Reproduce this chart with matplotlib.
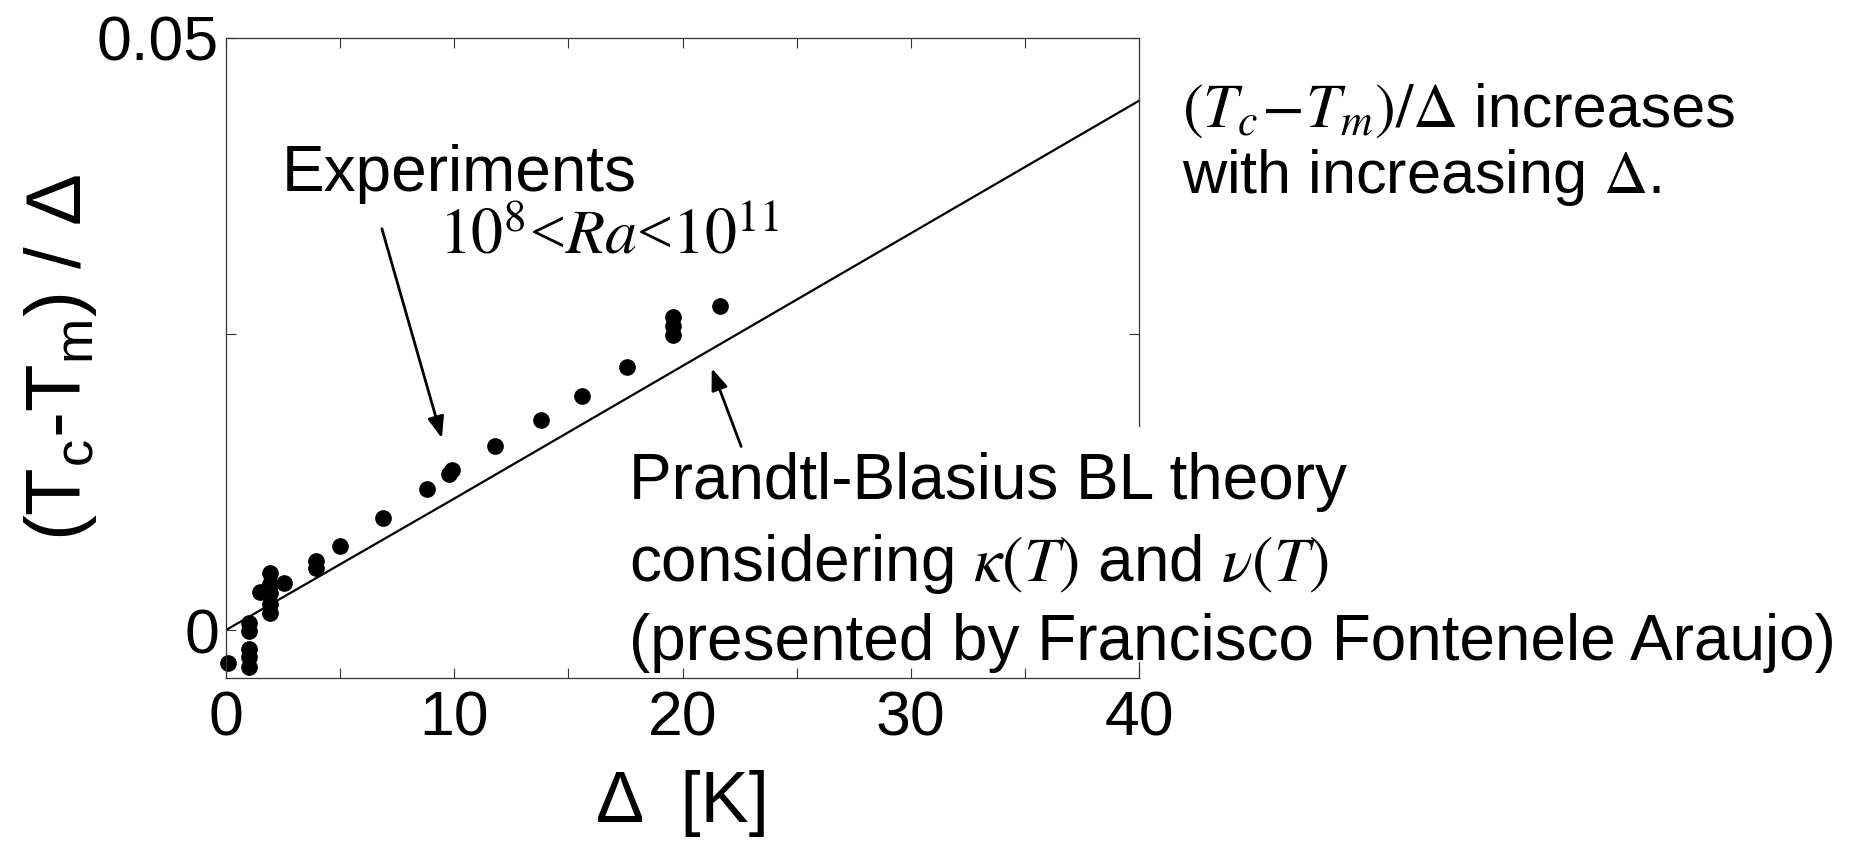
import numpy as np
import matplotlib
matplotlib.use('Agg')
from matplotlib import pyplot as plt
from matplotlib.patches import Rectangle

# data
exp_delta = [0.1, 1.0, 1.0, 1.0, 1.0, 1.0, 1.5, 1.95, 1.95, 1.95, 1.95, 1.95,
             2.55, 3.95, 3.95, 5.0, 6.9, 8.8, 9.75, 9.9, 11.8, 13.8, 15.6,
             17.55, 19.6, 19.6, 19.6, 21.65]
exp_ratio = [-0.0028, 0.0006, -0.0001, -0.0016, -0.0023, -0.0031, 0.0032,
             0.0048, 0.0039, 0.0031, 0.0022, 0.0014, 0.0040, 0.0058, 0.0052,
             0.0071, 0.0095, 0.0119, 0.0132, 0.0135, 0.0155, 0.0177, 0.0198,
             0.0222, 0.0264, 0.0257, 0.0249, 0.0274]

theory_delta = [0, 10, 20, 30, 40]
theory_ratio = [0, 0.0111, 0.0223, 0.0335, 0.0447]

x_ticks = [0, 5, 10, 15, 20, 25, 30, 35, 40]
x_ticklabels = ['0', '', '10', '', '20', '', '30', '', '40']
y_ticks = [0, 0.025, 0.05]
y_ticklabels = ['0', '', '0.05']

plt.rcParams['font.family'] = ['Liberation Sans', 'DejaVu Sans']

fig = plt.figure(figsize=(18.63, 8.46), dpi=100)
ax = fig.add_axes([0.1213, 0.1986, 0.4901, 0.7565])

ax.plot(theory_delta, theory_ratio, color='black', lw=1.6, zorder=2)
ax.plot(exp_delta, exp_ratio, 'o', color='black', ms=11, zorder=2, clip_on=False)

ax.set_xlim(0, 40)
ax.set_ylim(-0.00405, 0.05)
ax.set_xticks(x_ticks)
ax.set_xticklabels(x_ticklabels)
ax.set_yticks(y_ticks)
ax.set_yticklabels(y_ticklabels)
ax.tick_params(direction='in', length=7.2, width=0.8, colors='#333333',
               labelcolor='black', labelsize=45, top=True, right=True)
ax.tick_params(axis='x', pad=8)
ax.tick_params(axis='y', pad=5)
for s in ax.spines.values():
    s.set_color('#333333')
    s.set_linewidth(0.9)

ax.set_xlabel('Δ  [K]', fontsize=52, labelpad=16)
fig.text(0.0327, 0.578, r'($\mathregular{T_c}$-$\mathregular{T_m}$) / Δ',
         rotation=90, ha='center', va='center', fontsize=56)

# white box under the theory caption, hides part of the right spine
box = Rectangle((0.3274, 0.2175), 0.6726, 0.2778, transform=fig.transFigure,
                facecolor='white', edgecolor='none', zorder=3, clip_on=False)
ax.add_patch(box)

ax.text(2.45, 0.0371, 'Experiments', fontsize=46, va='baseline', zorder=4)
ax.text(9.35, 0.0318, r'$10^8$<$Ra$<$10^{11}$', fontsize=46, va='baseline',
        family='Liberation Serif', math_fontfamily='stix', zorder=4)

cap = ['Prandtl-Blasius BL theory',
       r'considering $\kappa(T)$ and $\nu(T)$',
       '(presented by Francisco Fontenele Araujo)']
cap_y = [0.0111, 0.0041, -0.0025]
for line, yy in zip(cap, cap_y):
    ax.text(17.65, yy, line, fontsize=46, va='baseline', math_fontfamily='stix',
            zorder=4, clip_on=False)

arrow = dict(arrowstyle='-|>,head_length=0.65,head_width=0.25', color='black',
             lw=2.0, shrinkA=0, shrinkB=0, mutation_scale=20)
ax.annotate('', xy=(9.46, 0.0162), xytext=(6.83, 0.0339), arrowprops=arrow, zorder=5)
ax.annotate('', xy=(21.28, 0.0221), xytext=(22.57, 0.0155), arrowprops=arrow, zorder=5)

# right-hand remark
t1 = fig.text(0.6343, 0.8502, r'$(T_c\!-\!T_m)/\Delta$', fontsize=45,
              va='baseline', math_fontfamily='stix')
ax.annotate(' increases', xy=(1, 0.8502), xycoords=(t1, 'figure fraction'),
            fontsize=44, va='baseline', annotation_clip=False)
fig.text(0.6343, 0.7715, r'with increasing $\Delta$.', fontsize=44,
         va='baseline', math_fontfamily='stix')

fig.savefig('out.png', dpi=100)
